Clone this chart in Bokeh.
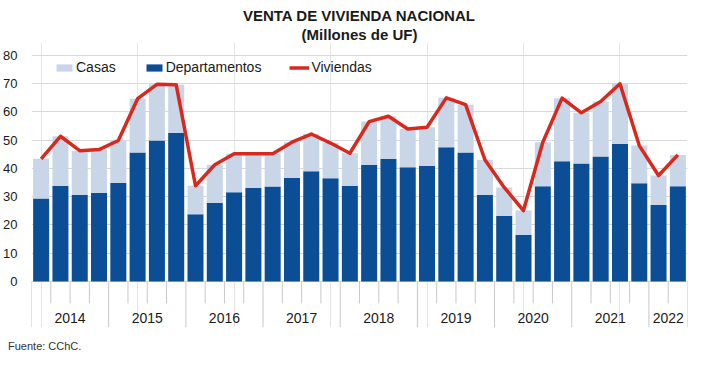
from bokeh.plotting import figure
from bokeh.models import Range1d, FixedTicker, Legend, LegendItem, Title, ColumnDataSource
from bokeh.embed import file_html
from bokeh.resources import INLINE
from bokeh.core.properties import value

# ---------------- data ----------------
years = ["2014", "2015", "2016", "2017", "2018", "2019", "2020", "2021", "2022"]
quarters_per_year = [4, 4, 4, 4, 4, 4, 4, 4, 2]

departamentos = [29.4, 33.8, 30.7, 31.3, 34.9, 45.7, 49.9, 52.6,
                 23.8, 27.8, 31.6, 33.1, 33.6, 36.6, 39.0, 36.5,
                 33.9, 41.3, 43.4, 40.4, 41.0, 47.5, 45.7, 30.7,
                 23.3, 16.5, 33.7, 42.6, 41.8, 44.2, 48.7, 34.8,
                 27.1, 33.7]
casas = [14.0, 17.6, 15.6, 15.4, 15.0, 19.0, 19.9, 17.0,
         10.1, 13.5, 13.6, 12.1, 11.6, 12.7, 13.2, 12.5,
         11.5, 15.3, 15.1, 13.6, 13.6, 17.5, 16.9, 12.4,
         10.0, 8.6, 15.6, 22.3, 17.9, 19.5, 21.3, 13.3,
         10.4, 11.1]
viviendas = [43.4, 51.4, 46.3, 46.7, 49.9, 64.7, 69.8, 69.6,
             33.9, 41.3, 45.2, 45.2, 45.2, 49.3, 52.2, 49.0,
             45.4, 56.6, 58.5, 54.0, 54.6, 65.0, 62.6, 43.1,
             33.3, 25.1, 49.3, 64.9, 59.7, 63.7, 70.0, 48.1,
             37.5, 44.8]
y_ticks = [0, 10, 20, 30, 40, 50, 60, 70, 80]

# ---------------- styles ----------------
FONT = "Liberation Sans"
DARK = "#0b4e96"
LIGHT = "#c8d6e8"
RED = "#d8291f"
GRID = "#d9d9d9"
SEP = "#c8c8c8"
TEXT = "#1a1a1a"

n = len(departamentos)
xs = list(range(n))
casas_top = [d + c for d, c in zip(departamentos, casas)]
src = ColumnDataSource(dict(x=xs, dept=departamentos, ctop=casas_top, viv=viviendas))

p = figure(width=708, height=378,
           x_range=Range1d(-0.5, n - 0.5), y_range=Range1d(-16.3, 84.6),
           x_axis_location=None, title=None,
           toolbar_location=None, output_backend="svg",
           min_border_left=31, min_border_right=21,
           min_border_top=42, min_border_bottom=51)
p.outline_line_color = None
p.background_fill_color = "white"
p.border_fill_color = "white"

# y axis
p.yaxis.ticker = FixedTicker(ticks=y_ticks)
p.ygrid.ticker = FixedTicker(ticks=y_ticks)
p.yaxis.axis_line_color = None
p.yaxis.major_tick_line_color = None
p.yaxis.minor_tick_line_color = None
p.yaxis.major_tick_out = 0
p.yaxis.major_tick_in = 0
p.yaxis.major_label_standoff = 14
p.yaxis.major_label_text_font = FONT
p.yaxis.major_label_text_font_size = "13px"
p.yaxis.major_label_text_color = TEXT
p.ygrid.grid_line_color = GRID
p.ygrid.grid_line_width = 1

# bars and line
r_dept = p.vbar(x="x", bottom=0, top="dept", width=0.83, source=src,
                fill_color=DARK, line_color=None)
r_casas = p.vbar(x="x", bottom="dept", top="ctop", width=0.83, source=src,
                 fill_color=LIGHT, line_color=None)
r_line = p.line(x="x", y="viv", source=src, line_color=RED, line_width=3.5,
                line_join="round")

# category separators and year labels
sep_x, sep_y = [], []
pos = -0.5
sep_x.append(pos); sep_y.append(-16.3)
year_x = []
for q in quarters_per_year:
    for k in range(1, q):
        sep_x.append(pos + k); sep_y.append(-7.8)
    year_x.append(pos + q / 2)
    pos += q
    sep_x.append(pos); sep_y.append(-16.3)
p.segment(x0=sep_x, y0=[0] * len(sep_x), x1=sep_x, y1=sep_y,
          line_color=SEP, line_width=1)
p.text(x=year_x, y=[-13.1] * len(year_x), text=years,
       text_font=value(FONT), text_font_size="14px", text_color=TEXT,
       text_align="center", text_baseline="middle")

# legend
legend = Legend(items=[LegendItem(label="Casas", renderers=[r_casas]),
                       LegendItem(label="Departamentos", renderers=[r_dept]),
                       LegendItem(label="Viviendas", renderers=[r_line])],
                orientation="horizontal", location=(23, 252),
                padding=4, margin=0, spacing=28, label_standoff=2,
                glyph_width=20, glyph_height=9,
                label_text_font=FONT, label_text_font_size="14px",
                label_text_color=TEXT,
                background_fill_alpha=0, border_line_color=None)
p.add_layout(legend)

# titles
p.add_layout(Title(text="(Millones de UF)", align="center",
                   text_font=FONT, text_font_size="15px", text_font_style="bold",
                   text_color=TEXT, standoff=0), "above")
p.add_layout(Title(text="VENTA DE VIVIENDA NACIONAL", align="center",
                   text_font=FONT, text_font_size="15px", text_font_style="bold",
                   text_color=TEXT, standoff=0), "above")
p.add_layout(Title(text="Fuente: CChC.", align="left", offset=-23.5,
                   text_font=FONT, text_font_size="11px", text_font_style="normal",
                   text_color="#333333", standoff=21), "below")

open("out.html", "w").write(file_html(p, INLINE))
